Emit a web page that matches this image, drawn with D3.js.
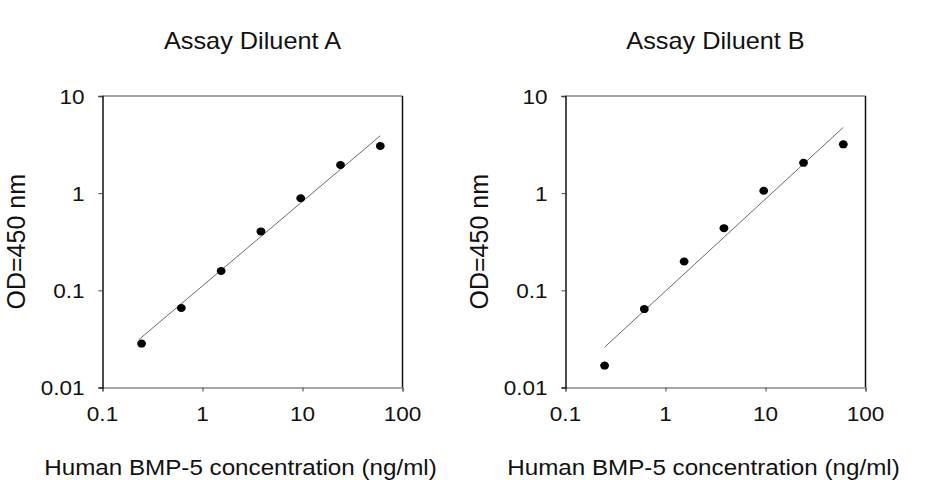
<!DOCTYPE html>
<html>
<head>
<meta charset="utf-8">
<script src="https://cdn.jsdelivr.net/npm/d3@7"></script>
<style>
  body { margin: 0; background: #fff; }
  text { font-family: "Liberation Sans", Arial, sans-serif; fill: #111; }
</style>
</head>
<body>
<div id="chart"></div>
<script>
// standard concentrations (ng/ml), 2.5-fold dilution series
const concentrations = [0.246, 0.614, 1.536, 3.84, 9.6, 24, 60];
// measured OD at 450 nm
const odDiluentA = [0.0283, 0.0658, 0.158, 0.404, 0.887, 1.95, 3.06];
const odDiluentB = [0.0168, 0.0641, 0.198, 0.436, 1.06, 2.05, 3.18];
// fitted power-curve endpoints (straight on log-log)
const fitXA = [0.23, 60];
const fitYA = [0.031, 3.9];
const fitXB = [0.246, 60];
const fitYB = [0.026, 4.76];
// tick labels
const xTicks = [0.1, 1, 10, 100];
const yTicks = [0.01, 0.1, 1, 10];
const panelTitles = ['Assay Diluent A', 'Assay Diluent B'];

const svgWidth = 926;
const svgHeight = 480;
const stretch = 1.1; // source image is a bit wider than tall

const svg = d3.select('#chart').append('svg')
  .attr('width', svgWidth)
  .attr('height', svgHeight);

// places a horizontally stretched text
function label(g, txt, x, y, size, anchor) {
  return g.append('text')
    .attr('transform', `translate(${x},${y}) scale(${stretch},1)`)
    .attr('text-anchor', anchor || 'middle')
    .style('font-size', size + 'px')
    .text(txt);
}

const panels = [
  {left: 102.5, title: panelTitles[0], y: odDiluentA, fx: fitXA, fy: fitYA},
  {left: 565.5, title: panelTitles[1], y: odDiluentB, fx: fitXB, fy: fitYB}
];

const plotW = 300;
const plotTop = 96;
const plotH = 291.5;

panels.forEach(p => {
  const g = svg.append('g').attr('transform', `translate(${p.left},${plotTop})`);
  const x = d3.scaleLog().domain([0.1, 100]).range([0, plotW]);
  const y = d3.scaleLog().domain([0.01, 10]).range([plotH, 0]);

  //frame: gray top, black right
  g.append('line').attr('x1', 0).attr('x2', plotW).attr('y1', 0).attr('y2', 0)
    .attr('stroke', '#8a8a8a').attr('stroke-width', 1.5);
  g.append('line').attr('x1', plotW).attr('x2', plotW).attr('y1', 0).attr('y2', plotH)
    .attr('stroke', '#111').attr('stroke-width', 1.5);

  //x axis
  const xAxis = g.append('g')
    .attr('transform', `translate(0,${plotH})`)
    .call(d3.axisBottom(x).tickValues(xTicks).tickSize(4).tickFormat(''));
  xAxis.select('.domain').attr('stroke', '#8a8a8a').attr('stroke-width', 1.5);
  xAxis.selectAll('.tick line').attr('stroke', '#444');

  //y axis
  const yAxis = g.append('g')
    .call(d3.axisLeft(y).tickValues(yTicks).tickSize(4).tickFormat(''));
  yAxis.select('.domain').attr('stroke', '#111').attr('stroke-width', 1.5);
  yAxis.selectAll('.tick line').attr('stroke', '#444');

  xTicks.forEach(t => label(g, String(t), x(t), plotH + 33, 20.5));
  yTicks.forEach(t => label(g, String(t), -18, y(t) + 7.5, 20.5, 'end'));

  //fit line
  const line = d3.line().x(d => x(d[0])).y(d => y(d[1]));
  g.append('path')
    .datum(d3.zip(p.fx, p.fy))
    .attr('d', line)
    .attr('fill', 'none')
    .attr('stroke', '#6a6a6a')
    .attr('stroke-width', 1);

  //points
  g.selectAll('ellipse.pt')
    .data(d3.zip(concentrations, p.y))
    .enter().append('ellipse')
    .attr('class', 'pt')
    .attr('cx', d => x(d[0]))
    .attr('cy', d => y(d[1]))
    .attr('rx', 4.4)
    .attr('ry', 4)
    .attr('fill', '#000');

  //titles
  label(g, p.title, plotW / 2, -47, 23);
  label(g, 'Human BMP-5 concentration (ng/ml)', plotW / 2 - 12, plotH + 87, 22);

  g.append('text')
    .attr('transform', `translate(${-78},${plotH / 2}) rotate(-90)`)
    .attr('text-anchor', 'middle')
    .style('font-size', '25px')
    .text('OD=450 nm');
});
</script>
</body>
</html>
